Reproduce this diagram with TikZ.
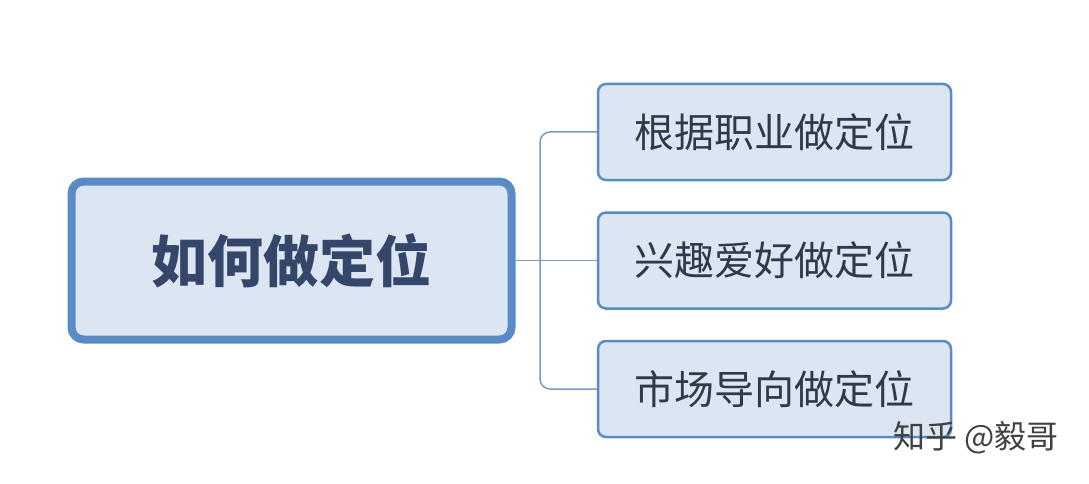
\documentclass[tikz,border=0pt]{standalone}
\usepackage{fontspec}
\newfontfamily\cjk{Noto Sans CJK SC}
\usetikzlibrary{positioning}
\definecolor{edgeblue}{HTML}{5B8BC7}
\definecolor{boxfill}{HTML}{DCE6F2}
\definecolor{txtdark}{HTML}{2E3A4C}
\definecolor{headtxt}{HTML}{34476A}
\definecolor{linkgray}{HTML}{7A9CC0}
\tikzset{
    mainbox/.style={rectangle, draw=edgeblue, line width=8pt, fill=boxfill, rounded corners=12pt, minimum width=440pt, minimum height=158pt, font=\cjk\bfseries\fontsize{56}{60}\selectfont, text=headtxt},
    subbox/.style={rectangle, draw=edgeblue, line width=2.5pt, fill=boxfill, rounded corners=8pt, minimum width=353pt, minimum height=96pt, font=\cjk\fontsize{40}{44}\selectfont, text=txtdark},
    link/.style={draw=linkgray, line width=1.5pt, rounded corners=10pt},
    sign/.style={font=\cjk\fontsize{32}{36}\selectfont, text=black!75}
}
\begin{document}
\begin{tikzpicture}[x=1pt, y=1pt]
        \useasboundingbox[fill=white] (0,0) rectangle (1089,-484);

        % Centre
        \node[mainbox] (How) at (291.5,-260.5) {如何做定位};

        % Branches
        \node[subbox] (Job) at (774.5,-132) {根据职业做定位};
        \node[subbox, below=30pt of Job] (Fun) {兴趣爱好做定位};
        \node[subbox, below=30pt of Fun] (Market) {市场导向做定位};

        % Links
        \coordinate (Fork) at (540,-260.5);
        \draw[link] (How.east) -- (How.east -| Fun.west);
        \draw[link] (Job.west) -| (Fork) |- (Market.west);

        % Watermark
        \node[sign, anchor=east] (Sign) at (1062,-438) {知乎 @毅哥};
    \end{tikzpicture}
\end{document}
